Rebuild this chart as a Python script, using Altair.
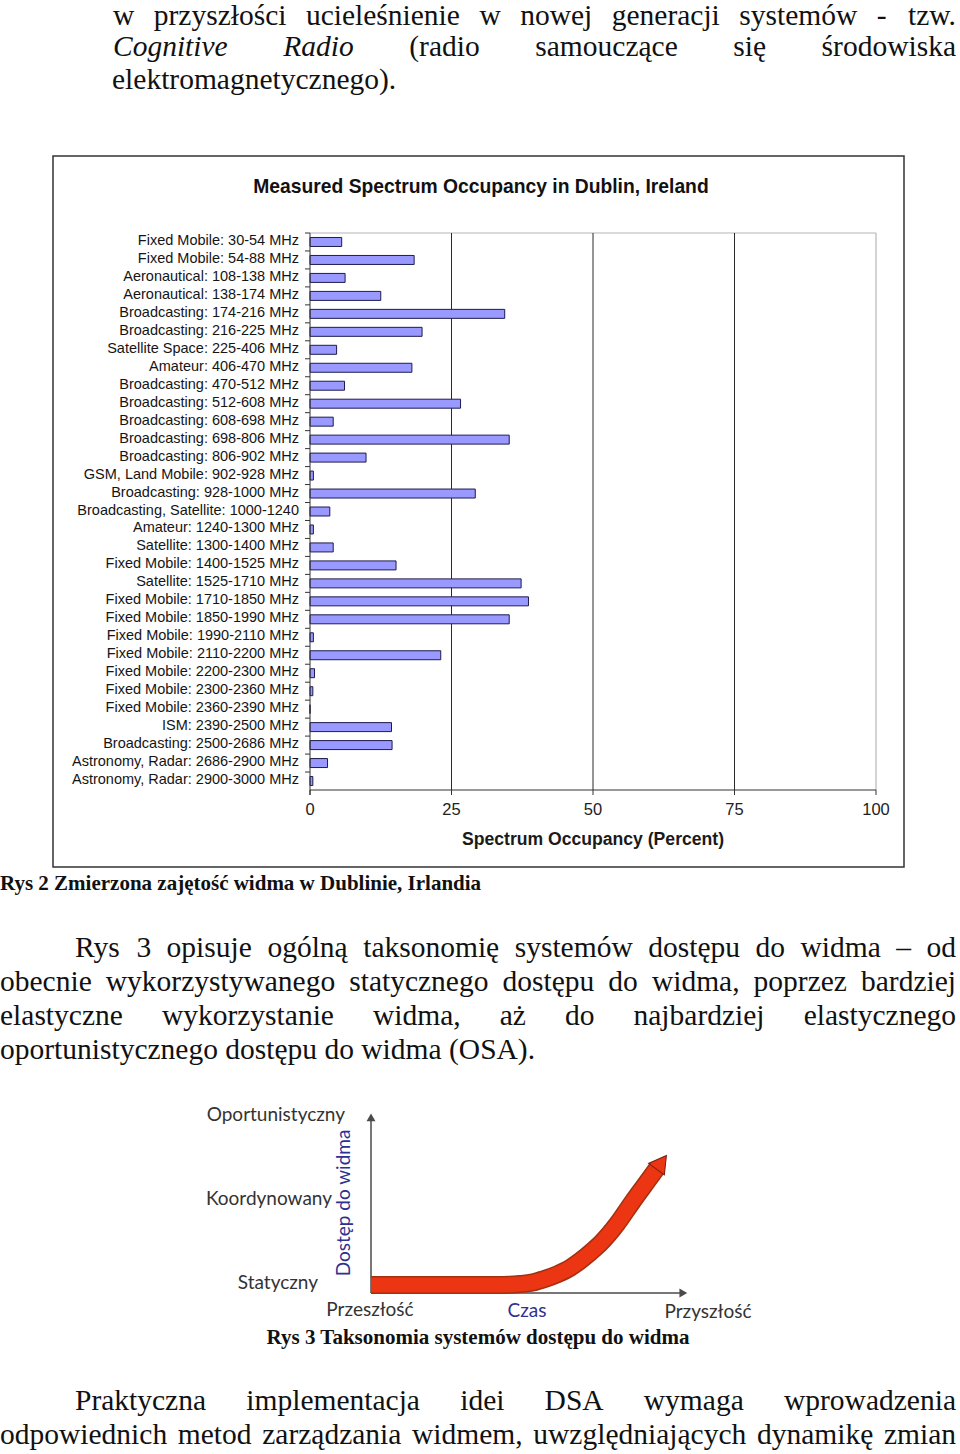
import altair as alt
import pandas as pd

W, H = 960, 1454
SERIF = "Liberation Serif"
SANS = "Liberation Sans"
DIAG = "Lato"

# ---------------- data: bar chart ----------------
bands = [
    "Fixed Mobile: 30-54 MHz", "Fixed Mobile: 54-88 MHz", "Aeronautical: 108-138 MHz",
    "Aeronautical: 138-174 MHz", "Broadcasting: 174-216 MHz", "Broadcasting: 216-225 MHz",
    "Satellite Space: 225-406 MHz", "Amateur: 406-470 MHz", "Broadcasting: 470-512 MHz",
    "Broadcasting: 512-608 MHz", "Broadcasting: 608-698 MHz", "Broadcasting: 698-806 MHz",
    "Broadcasting: 806-902 MHz", "GSM, Land Mobile: 902-928 MHz", "Broadcasting: 928-1000 MHz",
    "Broadcasting, Satellite: 1000-1240", "Amateur: 1240-1300 MHz", "Satellite: 1300-1400 MHz",
    "Fixed Mobile: 1400-1525 MHz", "Satellite: 1525-1710 MHz", "Fixed Mobile: 1710-1850 MHz",
    "Fixed Mobile: 1850-1990 MHz", "Fixed Mobile: 1990-2110 MHz", "Fixed Mobile: 2110-2200 MHz",
    "Fixed Mobile: 2200-2300 MHz", "Fixed Mobile: 2300-2360 MHz", "Fixed Mobile: 2360-2390 MHz",
    "ISM: 2390-2500 MHz", "Broadcasting: 2500-2686 MHz", "Astronomy, Radar: 2686-2900 MHz",
    "Astronomy, Radar: 2900-3000 MHz",
]
occupancy = [5.6, 18.4, 6.2, 12.5, 34.4, 19.8, 4.7, 18.0, 6.1, 26.6, 4.1, 35.2, 9.9, 0.6,
             29.2, 3.5, 0.6, 4.1, 15.2, 37.3, 38.6, 35.2, 0.6, 23.1, 0.8, 0.5, 0.0, 14.4,
             14.5, 3.1, 0.5]
x_ticks = [0, 25, 50, 75, 100]
grid_dark = [25, 50, 75]
grid_light = [100]
chart_title = "Measured Spectrum Occupancy in Dublin, Ireland"
x_title = "Spectrum Occupancy (Percent)"

# ---------------- data: taxonomy diagram ----------------
curve_time = [0, 38.5, 43.0, 46.3, 50.3, 54.0, 57.9, 61.8, 65.0, 68.0, 71.1, 76.4, 81.4,
              86.6, 89.1]
curve_access = [4.4, 4.4, 4.5, 4.9, 5.8, 7.7, 10.3, 13.7, 17.6, 21.9, 26.8, 37.7, 50.3,
                62.8, 68.9]
arrow_tip_time = [90.2]
arrow_tip_access = [71.4]
level_labels = ["Oportunistyczny", "Koordynowany", "Statyczny"]
time_labels = ["Przeszłość", "Czas", "Przyszłość"]
diag_y_title = "Dostęp do widma"

# ---------------- text content ----------------
top_lines = [
    ["w", "przyszłości", "ucieleśnienie", "w", "nowej", "generacji", "systemów", "-", "tzw."],
    ["Cognitive", "Radio", "(radio", "samouczące", "się", "środowiska"],
    ["elektromagnetycznego)."],
]
caption2 = "Rys 2 Zmierzona zajętość widma w Dublinie, Irlandia"
para2 = [
    ["Rys", "3", "opisuje", "ogólną", "taksonomię", "systemów", "dostępu", "do", "widma", "–", "od"],
    ["obecnie", "wykorzystywanego", "statycznego", "dostępu", "do", "widma,", "poprzez", "bardziej"],
    ["elastyczne", "wykorzystanie", "widma,", "aż", "do", "najbardziej", "elastycznego"],
    ["oportunistycznego", "dostępu", "do", "widma", "(OSA)."],
]
caption3 = "Rys 3 Taksonomia systemów dostępu do widma"
para3 = [
    ["Praktyczna", "implementacja", "idei", "DSA", "wymaga", "wprowadzenia"],
    ["odpowiednich", "metod", "zarządzania", "widmem,", "uwzględniających", "dynamikę", "zmian"],
]

# ---------------- layout (pixels) ----------------
RIGHT = 956
BODY = 29.5
top_left = [113, 113, 112]
top_just = [True, True, False]
top_y = [16, 47, 80]
para2_left = [75, 0, 0, 0]
para2_just = [True, True, True, False]
para2_y = [948, 982, 1016, 1050]
para3_left = [75, 0]
para3_just = [True, True]
para3_y = [1401, 1435]

X0, X1, Y0, Y1 = 310, 876, 233, 790
DX0, DX1, DY0, DY1 = 371, 693, 1293, 1110

# Times / Liberation Serif advance widths (1/1000 em) used for justification
TR = {" ": 250, "(": 333, ")": 333, ",": 250, "-": 333, ".": 250, "–": 500,
      "A": 722, "C": 667, "D": 722, "I": 333, "O": 722, "P": 556, "R": 667, "S": 556,
      "a": 444, "b": 500, "c": 444, "d": 500, "e": 444, "f": 333, "g": 500, "h": 500,
      "i": 278, "j": 278, "k": 500, "l": 278, "m": 778, "n": 500, "o": 500, "p": 500,
      "q": 500, "r": 333, "s": 389, "t": 278, "u": 500, "v": 500, "w": 722, "x": 500,
      "y": 500, "z": 444, "ą": 444, "ę": 444, "ł": 278, "ó": 500, "ś": 389, "ć": 444,
      "ż": 444, "ź": 444, "ń": 500}
TI = {"C": 667, "R": 611, "a": 500, "d": 500, "e": 444, "g": 500, "i": 278, "n": 500,
      "o": 500, "t": 278, "v": 444}
ITALIC = ("Cognitive", "Radio")


def word_w(w):
    tab = TI if w in ITALIC else TR
    return sum(tab.get(ch, 500) for ch in w) * BODY / 1000.0


one = pd.DataFrame({"k": [1]})
layers = []


def txt(s, x, y, size, align="left", font=SERIF, weight="normal", style="normal",
        color="#111111", angle=0):
    return alt.Chart(one).mark_text(
        text=s, align=align, baseline="middle", font=font, fontSize=size,
        fontWeight=weight, fontStyle=style, color=color, angle=angle
    ).encode(x=alt.value(x), y=alt.value(y))


def block(lines, lefts, justs, ys):
    out = []
    for words, left, just, y in zip(lines, lefts, justs, ys):
        widths = [word_w(w) for w in words]
        if just and len(words) > 1:
            gap = (RIGHT - left - sum(widths)) / (len(words) - 1)
        else:
            gap = TR[" "] * BODY / 1000.0
        x = left
        for i, (w, wd) in enumerate(zip(words, widths)):
            st = "italic" if w in ITALIC else "normal"
            if just and i == len(words) - 1 and len(words) > 1:
                out.append(txt(w, RIGHT, y, BODY, align="right", style=st))
            else:
                out.append(txt(w, round(x, 1), y, BODY, style=st))
            x += wd + gap
    return out


# chart frame first (background)
box = alt.Chart(one).mark_rect(fill="white", stroke="#333333", strokeWidth=1.5).encode(
    x=alt.value(53), x2=alt.value(904), y=alt.value(156), y2=alt.value(867))
layers.append(box)

layers += block(top_lines, top_left, top_just, top_y)
layers += block(para2, para2_left, para2_just, para2_y)
layers += block(para3, para3_left, para3_just, para3_y)
layers.append(txt(caption2, 0, 884, 21, weight="bold"))
layers.append(txt(caption3, 478, 1338, 21, align="center", weight="bold"))

# ---------------- bar chart ----------------
layers.append(txt(chart_title, 481, 187, 19.3, align="center", font=SANS, weight="bold",
                  color="#111111"))

xs = alt.Scale(domain=[0, 100], range=[X0, X1])
ys = alt.Scale(domain=bands, range=[Y0, Y1], paddingInner=0.5, paddingOuter=0.25)
ys_step = alt.Scale(domain=bands, range=[Y0, Y1], paddingInner=0, paddingOuter=0)

top_border = alt.Chart(one).mark_rule(color="#b5b5b5", strokeWidth=1).encode(
    x=alt.value(X0), x2=alt.value(X1), y=alt.value(Y0))
layers.append(top_border)

g_dark = alt.Chart(pd.DataFrame({"g": grid_dark})).mark_rule(
    color="#2a2a2a", strokeWidth=1).encode(
    x=alt.X("g:Q", scale=xs, axis=None), y=alt.value(Y0), y2=alt.value(Y1))
g_light = alt.Chart(pd.DataFrame({"g": grid_light})).mark_rule(
    color="#a8a8a8", strokeWidth=1).encode(
    x=alt.X("g:Q", scale=xs, axis=None), y=alt.value(Y0), y2=alt.value(Y1))
layers += [g_dark, g_light]

bar_df = pd.DataFrame({"band": bands, "occ": occupancy})
bars = alt.Chart(bar_df).mark_bar(color="#9999ff", stroke="#1c1c50", strokeWidth=1).encode(
    x=alt.X("occ:Q", scale=xs, axis=None),
    y=alt.Y("band:N", scale=ys, sort=bands, axis=None),
)
layers.append(bars)

# y axis: line, band-boundary ticks, labels
y_dom = alt.Chart(one).mark_rule(color="#333333", strokeWidth=1).encode(
    x=alt.value(X0), y=alt.value(Y0), y2=alt.value(Y1 + 5))
y_ticks = alt.Chart(bar_df).mark_rule(color="#333333", strokeWidth=1).encode(
    y=alt.Y("band:N", scale=ys_step, sort=bands, axis=None, bandPosition=0),
    x=alt.value(X0 - 5), x2=alt.value(X0))
y_labels = alt.Chart(bar_df).mark_text(
    align="right", baseline="middle", font=SANS, fontSize=14.5, color="#151515",
    dy=-1).encode(
    y=alt.Y("band:N", scale=ys, sort=bands, axis=None),
    x=alt.value(X0 - 11), text="band:N")
layers += [y_dom, y_ticks, y_labels]

# x axis: line, ticks, labels, title
x_dom = alt.Chart(one).mark_rule(color="#333333", strokeWidth=1).encode(
    x=alt.value(X0), x2=alt.value(X1), y=alt.value(Y1))
tick_df = pd.DataFrame({"v": x_ticks})
x_tk = alt.Chart(tick_df).mark_rule(color="#333333", strokeWidth=1).encode(
    x=alt.X("v:Q", scale=xs, axis=None), y=alt.value(Y1), y2=alt.value(Y1 + 5))
x_lb = alt.Chart(tick_df).mark_text(
    align="center", baseline="middle", font=SANS, fontSize=16.5, color="#222222").encode(
    x=alt.X("v:Q", scale=xs, axis=None), y=alt.value(810), text="v:Q")
layers += [x_dom, x_tk, x_lb]
layers.append(txt(x_title, 593, 840, 17.6, align="center", font=SANS, weight="bold",
                  color="#1a1a1a"))

# ---------------- taxonomy diagram ----------------
dxs = alt.Scale(domain=[0, 100], range=[DX0, DX1])
dys = alt.Scale(domain=[0, 100], range=[DY0, DY1])

axes_df = pd.DataFrame({"t": [0, 0], "a": [0, 0], "t2": [0, 97], "a2": [96, 0]})
diag_axes = alt.Chart(axes_df).mark_rule(color="#4a4a4a", strokeWidth=1.5).encode(
    x=alt.X("t:Q", scale=dxs, axis=None), x2="t2:Q",
    y=alt.Y("a:Q", scale=dys, axis=None), y2="a2:Q")
ah_df = pd.DataFrame({"t": [0, 97], "a": [96, 0], "ang": [0, 90]})
diag_heads = alt.Chart(ah_df).mark_point(shape="triangle-up", filled=True, size=80,
                                          color="#4a4a4a", opacity=1).encode(
    x=alt.X("t:Q", scale=dxs, axis=None), y=alt.Y("a:Q", scale=dys, axis=None),
    angle=alt.Angle("ang:Q", scale=None))
layers += [diag_axes, diag_heads]

curve_df = pd.DataFrame({"t": curve_time, "a": curve_access})
curve_edge = alt.Chart(curve_df).mark_line(color="#a3300f", strokeWidth=18, strokeCap="butt",
                                           interpolate="monotone").encode(
    x=alt.X("t:Q", scale=dxs, axis=None), y=alt.Y("a:Q", scale=dys, axis=None))
curve_fill = alt.Chart(curve_df).mark_line(color="#ec3512", strokeWidth=15, strokeCap="butt",
                                           interpolate="monotone").encode(
    x=alt.X("t:Q", scale=dxs, axis=None), y=alt.Y("a:Q", scale=dys, axis=None))
tip_df = pd.DataFrame({"t": arrow_tip_time, "a": arrow_tip_access})
curve_head = alt.Chart(tip_df).mark_point(shape="triangle-up", filled=True, size=380,
                                          angle=36, color="#ec3512", stroke="#7a1e0a",
                                          strokeWidth=1, opacity=1).encode(
    x=alt.X("t:Q", scale=dxs, axis=None), y=alt.Y("a:Q", scale=dys, axis=None))
layers += [curve_edge, curve_fill, curve_head]

DGRAY = "#333333"
DBLUE = "#2e3192"
DSIZE = 19
layers.append(txt(level_labels[0], 345, 1115, DSIZE, align="right", font=DIAG, color=DGRAY))
layers.append(txt(level_labels[1], 332, 1199, DSIZE, align="right", font=DIAG, color=DGRAY))
layers.append(txt(level_labels[2], 318, 1283, DSIZE, align="right", font=DIAG, color=DGRAY))
layers.append(txt(diag_y_title, 344, 1203, DSIZE, align="center", font=DIAG, color=DBLUE,
                  angle=270))
layers.append(txt(time_labels[0], 370, 1310, DSIZE, align="center", font=DIAG, color=DGRAY))
layers.append(txt(time_labels[1], 527, 1311, DSIZE, align="center", font=DIAG, color=DBLUE))
layers.append(txt(time_labels[2], 708, 1312, DSIZE, align="center", font=DIAG, color=DGRAY))

chart = alt.layer(*layers).resolve_scale(
    x="independent", y="independent"
).properties(
    width=W, height=H, padding=0, background="white",
    autosize=alt.AutoSizeParams(type="none"),
).configure_view(stroke=None)

chart.save("out.html", embed_options={"renderer": "svg", "actions": False})
